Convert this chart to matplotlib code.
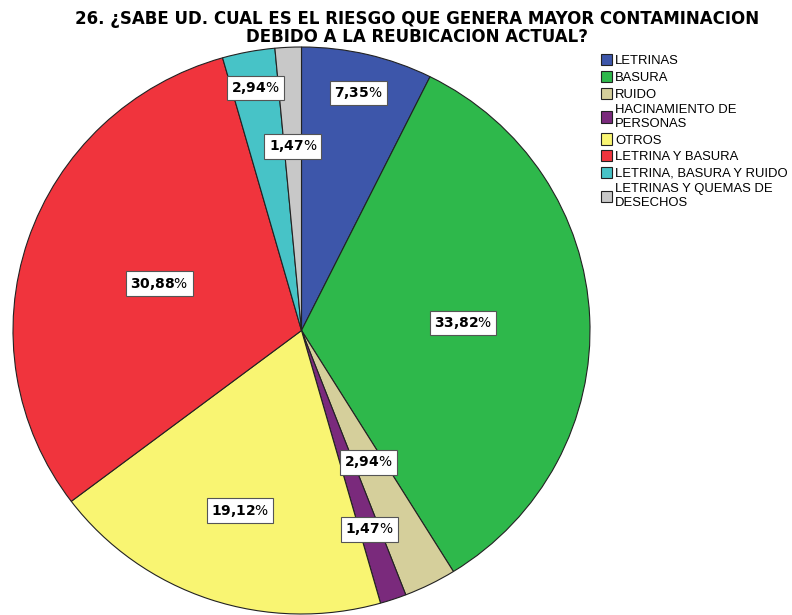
import matplotlib
matplotlib.use("Agg")
import matplotlib.pyplot as plt
import numpy as np

# data
categorias = [
    "LETRINAS",
    "BASURA",
    "RUIDO",
    "HACINAMIENTO DE\nPERSONAS",
    "OTROS",
    "LETRINA Y BASURA",
    "LETRINA, BASURA Y RUIDO",
    "LETRINAS Y QUEMAS DE\nDESECHOS",
]
porcentajes = [7.35, 33.82, 2.94, 1.47, 19.12, 30.88, 2.94, 1.47]
colores = ["#3d56aa", "#2eb84b", "#d5cf9b", "#7a2a7c",
           "#f9f572", "#f0343d", "#47c3c7", "#c8c8c8"]
titulo = ("26. ¿SABE UD. CUAL ES EL RIESGO QUE GENERA MAYOR CONTAMINACION\n"
          "DEBIDO A LA REUBICACION ACTUAL?")

# radial position of each percent label (fraction of radius)
label_r = [0.86, 0.56, 0.52, 0.74, 0.67, 0.52, 0.87, 0.65]

W, H = 792, 615
fig = plt.figure(figsize=(W / 100, H / 100), dpi=100)
# pie area in pixels: x 13..590, y 47..614 (from top)
ax = fig.add_axes([13 / W, 1 - 614 / H, 577 / W, 567 / H])


def fmt(p):
    s = f"{p:.2f}".replace(".", "{,}")
    return r"$\mathbf{" + s + r"}$%"


wedges, texts, autotexts = ax.pie(
    porcentajes,
    colors=colores,
    startangle=90,
    counterclock=False,
    autopct=fmt,
    wedgeprops=dict(edgecolor="#222222", linewidth=0.8),
    textprops=dict(fontsize=10, color="black"),
)
ax.set_aspect("auto")
ax.set_xlim(-1.0, 1.0)
ax.set_ylim(-1.0, 1.0)
ax.axis("off")

for w, t, r in zip(wedges, autotexts, label_r):
    ang = np.deg2rad((w.theta1 + w.theta2) / 2)
    t.set_position((r * np.cos(ang), r * np.sin(ang)))
    t.set_bbox(dict(facecolor="white", edgecolor="#555555", linewidth=0.8,
                    boxstyle="square,pad=0.3"))

fig.text(417 / W, 1 - 10 / H, titulo, ha="center", va="top", fontsize=12,
         fontweight="bold", linespacing=1.0, family="DejaVu Sans")

leg = fig.legend(
    wedges, categorias,
    loc="upper left", bbox_to_anchor=(596 / W, 1 - 49 / H),
    frameon=False, handlelength=0.85, handleheight=0.95,
    handletextpad=0.2, labelspacing=0.27, borderaxespad=0,
    prop=dict(family="Liberation Sans", size=9.4),
)
for txt in leg.get_texts():
    txt.set_linespacing(1.2)

fig.savefig("out.png", dpi=100)
